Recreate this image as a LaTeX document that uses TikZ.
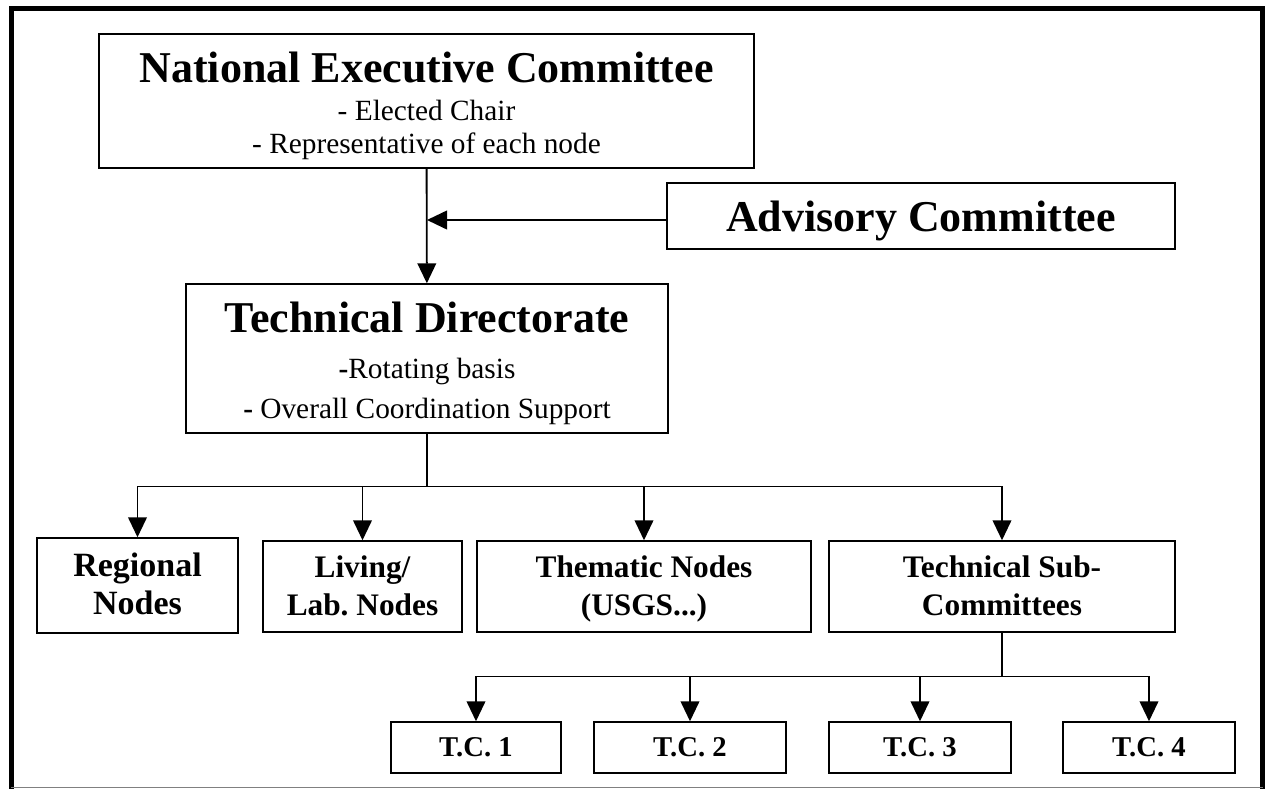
\documentclass[tikz,border=0pt]{standalone}
\usepackage{fontspec}
\setmainfont{Liberation Serif}
\frenchspacing
\usetikzlibrary{positioning}
\usetikzlibrary{arrows.meta}
\tikzset{	>={Triangle[length=15pt, width=14pt]},
	unit/.style={
		draw,
		line width=1.1pt,
		align=center,
		inner sep=0pt},
	headunit/.style={
		unit,
		font=\fontsize{22}{24.75}\selectfont},
	lowunit/.style={
		unit,
		font=\fontsize{23.5}{28.5}\selectfont\bfseries},
	tcunit/.style={
		unit,
		minimum height=38.25pt,
		font=\fontsize{21.5}{24}\selectfont\bfseries},
	link/.style={
		draw,
		line width=1.4pt},
	every edge/.style={
		draw,
		->,
		line width=1.4pt}
}
\newcommand{\bigtitle}[1]{{\fontsize{33}{36}\selectfont\bfseries\rule{0pt}{30pt}#1}}
\newcommand{\botstrut}{\rule[-5.25pt]{0pt}{5.25pt}}
\newcommand{\lowstrut}{\rule[-6.4pt]{0pt}{28.5pt}}

\begin{document}
\begin{tikzpicture}[x=0.75pt, y=-0.75pt]
	\useasboundingbox (0,0) rectangle (1265,789);
	% frame
	\draw[line width=3.75pt] (11,789) -- (11,8.5) -- (1262.5,8.5) -- (1262.5,789);
	\draw[gray, line width=0.75pt] (11,787) -- (1262.5,787);
	% top part
	\node[headunit, minimum width=491.25pt, minimum height=100.5pt] (nec) at (426.5,101)
		{\bigtitle{National Executive Committee}\\[3.75pt]
		- Elected Chair\\
		- Representative of each node\botstrut};
	\node[unit, minimum width=381pt, minimum height=49.5pt] (adv) at (921,216)
		{\bigtitle{Advisory Committee}};
	\node[headunit, minimum width=361.5pt, minimum height=111.75pt] (td) at (427,358.5)
		{\bigtitle{Technical Directorate}\\[9.75pt]
		{\bfseries -}Rotating basis\\[5.25pt]
		{\bfseries -} Overall Coordination Support\botstrut};
	\coordinate (merge) at (427,220);
	\draw (nec) edge (td);
	\draw ([yshift=-3pt]adv.west) edge (merge);
	% nodes
	\node[lowunit, minimum width=150.75pt, minimum height=71.25pt, font=\fontsize{25.5}{28.5}\selectfont\bfseries] (reg) at (137.5,585.5) {\lowstrut Regional\\\lowstrut Nodes};
	\node[lowunit, minimum width=149.25pt, minimum height=68.25pt] (liv) at (362.5,586.5) {\lowstrut Living/\\\lowstrut Lab. Nodes};
	\node[lowunit, minimum width=250.5pt, minimum height=68.25pt] (thm) at (644,586.5) {\lowstrut Thematic Nodes\\\lowstrut (USGS...)};
	\node[lowunit, minimum width=259.5pt, minimum height=68.25pt] (tsc) at (1002,586.5) {\lowstrut Technical Sub-\\\lowstrut Committees};
	\coordinate (bus) at (427,486.5);
	\draw[link] (td) -- (bus);
	\draw[link, ->] (bus) -| (reg);
	\draw[link, ->] (bus) -| (liv);
	\draw[link, ->] (bus) -| (thm);
	\draw[link, ->] (bus) -| (tsc);
	% sub-committees
	\node[tcunit, minimum width=127.5pt] (tc1) at (476,747.5) {T.C. 1};
	\node[tcunit, minimum width=144pt] (tc2) at (690,747.5) {T.C. 2};
	\node[tcunit, minimum width=136.5pt] (tc3) at (920,747.5) {T.C. 3};
	\node[tcunit, minimum width=129pt] (tc4) at (1149,747.5) {T.C. 4};
	\coordinate (tcbus) at (1002,676.5);
	\draw[link] (tsc) -- (tcbus);
	\draw[link, ->] (tcbus) -| (tc1);
	\draw[link, ->] (tcbus) -| (tc2);
	\draw[link, ->] (tcbus) -| (tc3);
	\draw[link, ->] (tcbus) -| (tc4);
\end{tikzpicture}
\end{document}
